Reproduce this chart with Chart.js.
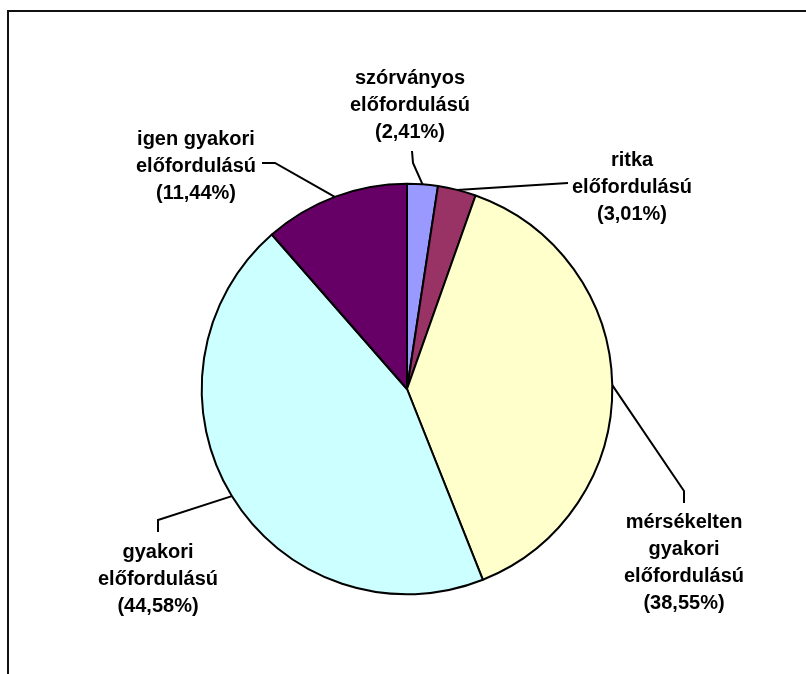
<!DOCTYPE html>
<html>
<head>
<meta charset="utf-8">
<script src="https://cdn.jsdelivr.net/npm/chart.js@4/dist/chart.umd.min.js"></script>
<style>
  html, body { margin: 0; padding: 0; background: #fff; }
  canvas { display: block; }
</style>
</head>
<body>
<canvas id="c" width="806" height="674"></canvas>
<script>
// ---- data ----
const categories = [
  'szórványos előfordulású',
  'ritka előfordulású',
  'mérsékelten gyakori előfordulású',
  'gyakori előfordulású',
  'igen gyakori előfordulású'
];
const labelTexts = [
  ['szórványos', 'előfordulású'],
  ['ritka', 'előfordulású'],
  ['mérsékelten', 'gyakori', 'előfordulású'],
  ['gyakori', 'előfordulású'],
  ['igen gyakori', 'előfordulású']
];
const values = [2.41, 3.01, 38.55, 44.58, 11.44];
const colors = ['#9999FF', '#993366', '#FFFFCC', '#CCFFFF', '#660066'];

// ---- label layout (positions only) ----
const labelLayout = [
  { cx: 410, baseline: 84,  leader: [[413, 163], [412, 151]] },
  { cx: 632, baseline: 166, leader: [[568, 183]] },
  { cx: 684, baseline: 528, leader: [[684, 491], [684, 503]] },
  { cx: 158, baseline: 558, leader: [[158, 520], [158, 532]] },
  { cx: 196, baseline: 145, leader: [[275, 163], [262, 163]] }
];
const LINE_H = 27;

const fmtPct = v => '(' + v.toFixed(2).replace('.', ',') + '%)';

const framePlugin = {
  id: 'frame',
  beforeDraw(chart) {
    const ctx = chart.ctx;
    ctx.save();
    ctx.fillStyle = '#fff';
    ctx.fillRect(0, 0, chart.width, chart.height);
    ctx.fillStyle = '#111';
    ctx.fillRect(7, 10, chart.width, 2);
    ctx.fillRect(7, 10, 2, chart.height);
    ctx.restore();
  }
};

const labelPlugin = {
  id: 'pieLabels',
  afterDatasetsDraw(chart) {
    const ctx = chart.ctx;
    const meta = chart.getDatasetMeta(0);
    ctx.save();
    ctx.strokeStyle = '#000';
    ctx.lineWidth = 2;
    ctx.fillStyle = '#000';
    ctx.font = 'bold 20px "Liberation Sans", Arial, sans-serif';
    ctx.textAlign = 'center';
    ctx.textBaseline = 'alphabetic';
    meta.data.forEach((arc, i) => {
      const p = arc.getProps(['x', 'y', 'startAngle', 'endAngle', 'outerRadius'], true);
      const mid = (p.startAngle + p.endAngle) / 2;
      const ex = p.x + Math.cos(mid) * p.outerRadius;
      const ey = p.y + Math.sin(mid) * p.outerRadius;
      const L = labelLayout[i];
      ctx.beginPath();
      ctx.moveTo(ex, ey);
      L.leader.forEach(pt => ctx.lineTo(pt[0], pt[1]));
      ctx.stroke();
      const lines = labelTexts[i].concat([fmtPct(chart.data.datasets[0].data[i])]);
      lines.forEach((t, k) => ctx.fillText(t, L.cx, L.baseline + k * LINE_H));
    });
    ctx.restore();
  }
};

new Chart(document.getElementById('c'), {
  type: 'pie',
  data: {
    labels: categories,
    datasets: [{
      data: values,
      backgroundColor: colors,
      borderColor: '#000',
      borderWidth: 2,
      radius: 205.3
    }]
  },
  options: {
    responsive: false,
    animation: false,
    devicePixelRatio: 1,
    layout: { padding: { left: 8, right: 0, top: 104, bottom: 0 } },
    plugins: {
      legend: { display: false },
      tooltip: { enabled: false }
    }
  },
  plugins: [framePlugin, labelPlugin]
});
</script>
</body>
</html>
